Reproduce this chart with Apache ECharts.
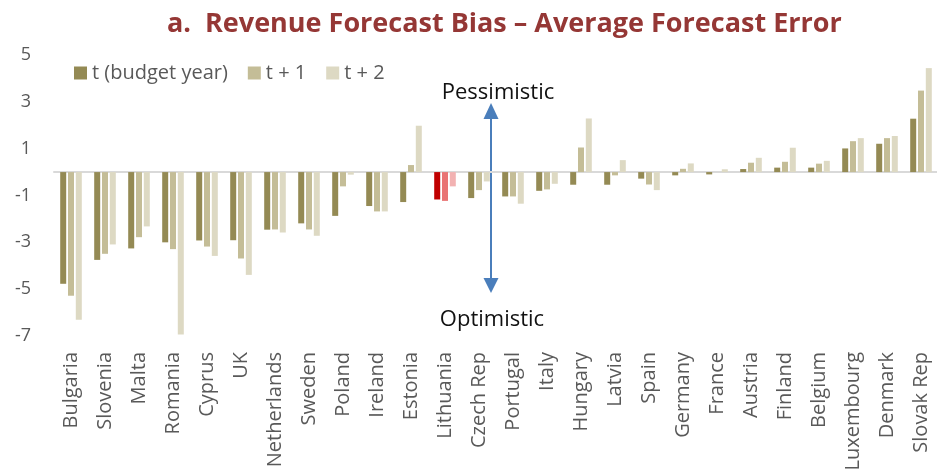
<!DOCTYPE html>
<html>
<head>
<meta charset="utf-8">
<script src="https://cdn.jsdelivr.net/npm/echarts@6/dist/echarts.min.js"></script>
<style>
  html, body { margin: 0; padding: 0; background: #fff; }
  #container { width: 937px; height: 472px; }
</style>
</head>
<body>
<div id="container"></div>
<script>
var countries = ['Bulgaria', 'Slovenia', 'Malta', 'Romania', 'Cyprus', 'UK', 'Netherlands', 'Sweden',
  'Poland', 'Ireland', 'Estonia', 'Lithuania', 'Czech Rep', 'Portugal', 'Italy', 'Hungary', 'Latvia',
  'Spain', 'Germany', 'France', 'Austria', 'Finland', 'Belgium', 'Luxembourg', 'Denmark', 'Slovak Rep'];

var errT = [-4.77, -3.75, -3.26, -3.00, -2.92, -2.91, -2.46, -2.19, -1.87, -1.45, -1.28, -1.17, -1.11,
  -1.04, -0.80, -0.54, -0.54, -0.28, -0.14, -0.10, 0.13, 0.19, 0.19, 1.01, 1.21, 2.28];
var errT1 = [-5.28, -3.49, -2.78, -3.29, -3.18, -3.69, -2.45, -2.45, -0.61, -1.68, 0.30, -1.23, -0.77,
  -1.04, -0.74, 1.05, -0.14, -0.53, 0.14, 0.00, 0.40, 0.44, 0.36, 1.32, 1.45, 3.48];
var errT2 = [-6.31, -3.09, -2.32, -6.94, -3.58, -4.39, -2.58, -2.72, -0.11, -1.68, 1.98, -0.61, -0.40,
  -1.35, -0.50, 2.29, 0.51, -0.77, 0.37, 0.12, 0.61, 1.04, 0.48, 1.45, 1.54, 4.44];

var seriesNames = ['t (budget year)', 't + 1', 't + 2'];
var yTicks = [-7, -5, -3, -1, 1, 3, 5];
var highlight = 'Lithuania';

var baseColors = ['#948a54', '#c4bd97', '#ddd9c3'];
var hiColors = ['#c00000', '#e97373', '#f2b2b2'];

function buildData(values, k) {
  return values.map(function (v, i) {
    if (countries[i] === highlight) {
      return { value: v, itemStyle: { color: hiColors[k] } };
    }
    return v;
  });
}

var myChart = echarts.init(document.getElementById('container'));
var allSeries = [errT, errT1, errT2];

var option = {
  animation: false,
  title: {
    text: 'a.  Revenue Forecast Bias \u2013 Average Forecast Error',
    left: 162,
    top: 6,
    textStyle: {
      fontFamily: 'Open Sans',
      fontWeight: 'bold',
      fontSize: 27,
      color: '#953735'
    }
  },
  legend: {
    data: seriesNames,
    left: 69,
    top: 58,
    itemWidth: 13,
    itemHeight: 13,
    itemGap: 20,
    icon: 'rect',
    textStyle: { fontFamily: 'Open Sans', fontSize: 20, color: '#595959' }
  },
  grid: {
    left: 54,
    top: 55,
    width: 884,
    height: 281,
    containLabel: false,
    outerBoundsMode: 'none'
  },
  xAxis: {
    type: 'category',
    data: countries,
    axisLine: { onZero: true, lineStyle: { color: '#d9d9d9', width: 2 } },
    axisTick: { show: false },
    axisLabel: {
      rotate: 90,
      interval: 0,
      margin: 16,
      fontFamily: 'Open Sans',
      fontSize: 20,
      color: '#595959'
    }
  },
  yAxis: {
    type: 'value',
    min: yTicks[0],
    max: yTicks[yTicks.length - 1],
    interval: 2,
    splitLine: { show: false },
    axisLine: { show: false },
    axisTick: { show: false },
    axisLabel: {
      margin: 23,
      fontFamily: 'Open Sans',
      fontSize: 18,
      color: '#595959'
    }
  },
  series: allSeries.map(function (vals, k) {
    return {
      name: seriesNames[k],
      type: 'bar',
      data: buildData(vals, k),
      barWidth: 6,
      barGap: '30%',
      itemStyle: { color: baseColors[k] }
    };
  }),
  graphic: [
    { type: 'line', shape: { x1: 491, y1: 112, x2: 491, y2: 284 },
      style: { stroke: '#4a7ebb', lineWidth: 2 } },
    { type: 'polygon', shape: { points: [[491, 103], [483.5, 119], [498.5, 119]] },
      style: { fill: '#4a7ebb' } },
    { type: 'polygon', shape: { points: [[491, 293], [483.5, 278], [498.5, 278]] },
      style: { fill: '#4a7ebb' } },
    { type: 'text', x: 498, y: 93,
      style: { text: 'Pessimistic', fontFamily: 'Open Sans', fontSize: 22, fill: '#111',
        align: 'center', verticalAlign: 'middle' } },
    { type: 'text', x: 492, y: 320,
      style: { text: 'Optimistic', fontFamily: 'Open Sans', fontSize: 22, fill: '#111',
        align: 'center', verticalAlign: 'middle' } }
  ]
};

myChart.setOption(option);
</script>
</body>
</html>
